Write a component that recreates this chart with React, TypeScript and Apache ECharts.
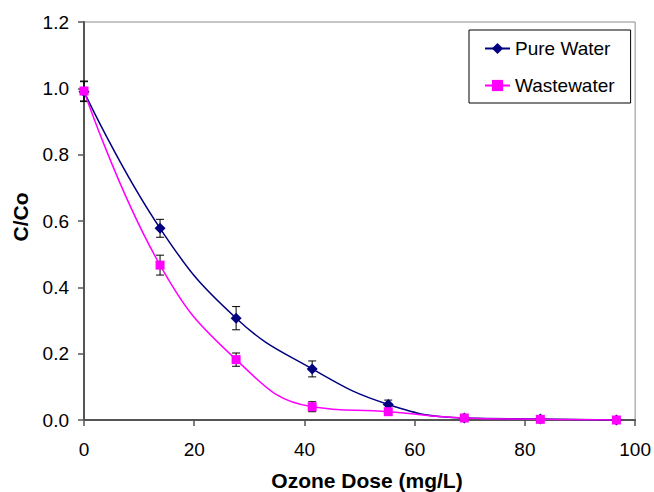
import React, { useEffect, useRef } from "react";
import * as echarts from "echarts";

const doses = [0, 13.8, 27.6, 41.4, 55.2, 69.0, 82.8, 96.6];
const pureWater = [0.99, 0.578, 0.307, 0.154, 0.047, 0.006, 0.003, 0.0];
const pureErr = [0.03, 0.027, 0.035, 0.024, 0.013, 0.003, 0.002, 0.0];
const wastewater = [0.992, 0.467, 0.182, 0.04, 0.025, 0.006, 0.002, 0.0];
const wasteErr = [0.03, 0.03, 0.02, 0.015, 0.005, 0.002, 0.001, 0.0];
const xTicks = [0, 20, 40, 60, 80, 100];
const yTicks = [0, 0.2, 0.4, 0.6, 0.8, 1.0, 1.2];

const FONT = "'Liberation Sans', Arial, sans-serif";

export default function App() {
  const ref = useRef<HTMLDivElement>(null);
  useEffect(() => {
    if (!ref.current) return;
    const chart = echarts.init(ref.current, null, { renderer: "svg" });
    const errData = (vals: number[], errs: number[]) =>
      doses.map((d, i) => [d, vals[i] - errs[i], vals[i] + errs[i]]);
    const errRender = (params: any, api: any) => {
      const x = api.value(0);
      const lo = api.coord([x, api.value(1)]);
      const hi = api.coord([x, api.value(2)]);
      const cw = 4;
      const style = { stroke: "#000", lineWidth: 1 };
      return {
        type: "group",
        children: [
          { type: "line", shape: { x1: lo[0], y1: lo[1], x2: hi[0], y2: hi[1] }, style },
          { type: "line", shape: { x1: lo[0] - cw, y1: lo[1], x2: lo[0] + cw, y2: lo[1] }, style },
          { type: "line", shape: { x1: hi[0] - cw, y1: hi[1], x2: hi[0] + cw, y2: hi[1] }, style },
        ],
      };
    };
    chart.setOption({
      animation: false,
      textStyle: { fontFamily: FONT },
      grid: {
        left: 84,
        right: 18,
        top: 22,
        bottom: 72,
        show: true,
        borderColor: "#8c8c8c",
        borderWidth: 1,
        backgroundColor: "#fff",
      },
      legend: {
        orient: "vertical",
        left: 469,
        top: 30,
        padding: [9, 16, 8, 15],
        itemGap: 18,
        itemWidth: 25,
        itemHeight: 14,
        borderColor: "#000",
        borderWidth: 1,
        backgroundColor: "#fff",
        textStyle: { fontFamily: FONT, fontSize: 19, color: "#000" },
        data: ["Pure Water", "Wastewater"],
      },
      xAxis: {
        type: "value",
        min: 0,
        max: 100,
        interval: 20,
        splitLine: { show: false },
        axisLine: { show: true, onZero: false, lineStyle: { color: "#555", width: 2 } },
        axisTick: { show: true, inside: false, length: 6, lineStyle: { color: "#555", width: 1.5 } },
        axisLabel: {
          color: "#000",
          fontSize: 19,
          fontFamily: FONT,
          margin: 20,
          formatter: (v: number) => (xTicks.includes(v) ? String(v) : ""),
        },
      },
      yAxis: {
        type: "value",
        min: 0,
        max: 1.2,
        interval: 0.2,
        splitLine: { show: false },
        axisLine: { show: true, onZero: false, lineStyle: { color: "#555", width: 2 } },
        axisTick: { show: true, inside: false, length: 6, lineStyle: { color: "#555", width: 1.5 } },
        axisLabel: {
          color: "#000",
          fontSize: 19,
          fontFamily: FONT,
          margin: 15,
          formatter: (v: number) => {
            const t = yTicks.find((y) => Math.abs(y - v) < 1e-9);
            return t === undefined ? "" : t.toFixed(1);
          },
        },
      },
      graphic: [
        {
          type: "text",
          x: 367,
          y: 480,
          style: {
            text: "Ozone Dose (mg/L)",
            font: `bold 21px ${FONT}`,
            fill: "#000",
            align: "center",
            verticalAlign: "middle",
          },
        },
        {
          type: "text",
          x: 20,
          y: 217,
          rotation: Math.PI / 2,
          style: {
            text: "C/Co",
            font: `bold 21px ${FONT}`,
            fill: "#000",
            align: "center",
            verticalAlign: "middle",
          },
        },
      ],
      series: [
        {
          type: "custom",
          name: "pureErr",
          renderItem: errRender,
          data: errData(pureWater, pureErr),
          z: 3,
          silent: true,
        },
        {
          type: "custom",
          name: "wasteErr",
          renderItem: errRender,
          data: errData(wastewater, wasteErr),
          z: 3,
          silent: true,
        },
        {
          type: "line",
          name: "Pure Water",
          data: doses.map((d, i) => [d, pureWater[i]]),
          smooth: 0.45,
          symbol: "diamond",
          symbolSize: 11,
          itemStyle: { color: "#000080" },
          lineStyle: { color: "#000080", width: 1.5 },
          z: 4,
        },
        {
          type: "line",
          name: "Wastewater",
          data: doses.map((d, i) => [d, wastewater[i]]),
          smooth: 0.45,
          symbol: "rect",
          symbolSize: 9,
          itemStyle: { color: "#ff00ff" },
          lineStyle: { color: "#ff00ff", width: 1.5 },
          z: 5,
        },
      ],
    });
    return () => chart.dispose();
  }, []);
  return <div ref={ref} style={{ width: 654, height: 492, position: "absolute", left: 0, top: 0 }} />;
}
